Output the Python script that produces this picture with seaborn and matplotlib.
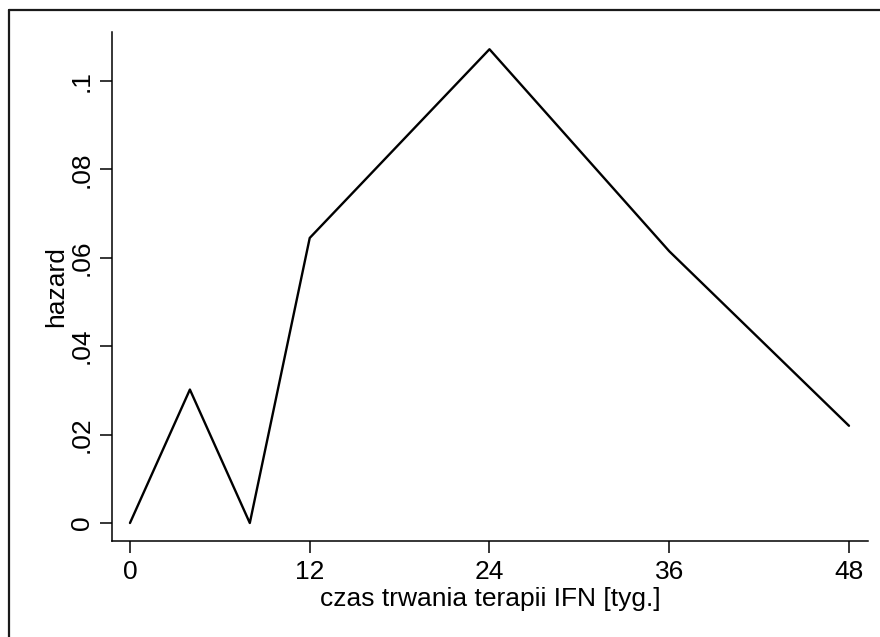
import matplotlib
matplotlib.use("Agg")
import matplotlib.pyplot as plt
from matplotlib.lines import Line2D
import seaborn as sns
import pandas as pd

# Piecewise hazard by duration of IFN therapy (weeks)
weeks = [0, 4, 8, 12, 24, 36, 48]
hazard = [0.0, 0.0302, 0.0, 0.0645, 0.1072, 0.0615, 0.022]
x_ticks = [0, 12, 24, 36, 48]
y_ticks = [0, 0.02, 0.04, 0.06, 0.08, 0.1]
y_tick_labels = ["0", ".02", ".04", ".06", ".08", ".1"]

df = pd.DataFrame({"weeks": weeks, "hazard": hazard})

sns.set_style("ticks")
plt.rcParams["font.family"] = ["Liberation Sans", "DejaVu Sans"]

W, H = 880, 637
fig = plt.figure(figsize=(W / 100, H / 100), dpi=100)
fig.patch.set_facecolor("white")

left, right, top, bottom = 112, 868, 32, 541
ax = fig.add_axes([left / W, 1 - bottom / H, (right - left) / W, (bottom - top) / H])

sns.lineplot(data=df, x="weeks", y="hazard", color="black", linewidth=1.7,
             ax=ax, sort=False)

ax.set_xlim(-1.2, 49.27)
ax.set_ylim(-0.00407, 0.1111)
ax.set_xticks(x_ticks)
ax.set_xticklabels([str(t) for t in x_ticks])
ax.set_yticks(y_ticks)
ax.set_yticklabels(y_tick_labels, rotation=90, va="center")

for side in ("top", "right"):
    ax.spines[side].set_visible(False)
for side in ("left", "bottom"):
    ax.spines[side].set_linewidth(1.1)
    ax.spines[side].set_color("black")

ax.tick_params(axis="both", direction="out", length=8.6, width=1.1,
               color="black", labelsize=19, labelcolor="black")
ax.tick_params(axis="x", pad=5.3)
ax.tick_params(axis="y", pad=4.6)

ax.set_xlabel("czas trwania terapii IFN [tyg.]", fontsize=19, color="black", labelpad=2)
ax.set_ylabel("hazard", fontsize=19, color="black", labelpad=1)
ax.set_facecolor("white")

# outer frame of the graph
bx, by = 9 / W, 1 - 10 / H
fig.add_artist(Line2D([bx, bx], [0, by], transform=fig.transFigure,
                      color="#1a1a1a", linewidth=1.6))
fig.add_artist(Line2D([bx, 1], [by, by], transform=fig.transFigure,
                      color="#1a1a1a", linewidth=1.6))

fig.savefig("out.png", dpi=100, facecolor="white")
